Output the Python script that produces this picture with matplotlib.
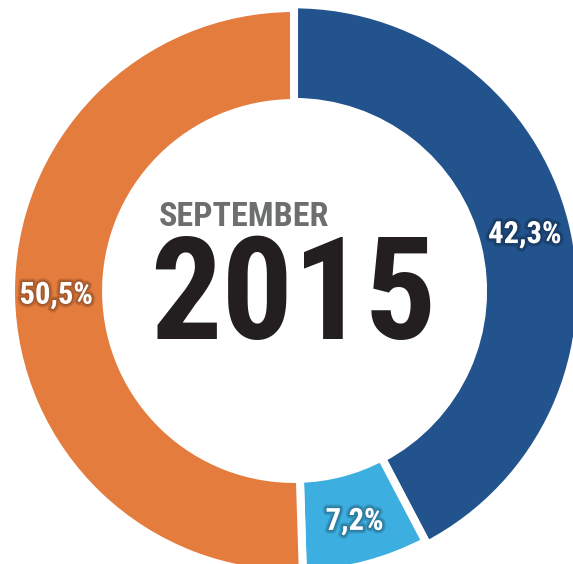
import matplotlib
matplotlib.use('Agg')
from matplotlib import pyplot as plt
from matplotlib import font_manager
from matplotlib import patheffects

# DATA
shares = [42.3, 7.2, 50.5]
colors = ['#22538C', '#3DAEE0', '#E47C3E']
month = 'SEPTEMBER'
year = '2015'

# pick a narrow bold face if one is installed
names = {f.name for f in font_manager.fontManager.ttflist}
FONT = 'DejaVu Sans'
for cand in ['Liberation Sans Narrow', 'Roboto Condensed', 'Arial Narrow']:
    if cand in names:
        FONT = cand
        break

fig = plt.figure(figsize=(5.73, 5.64), dpi=100)
ax = fig.add_axes([0, 0, 1, 1])

wedges, texts, autotexts = ax.pie(
    shares, colors=colors, startangle=90, counterclock=False,
    radius=1.0, pctdistance=0.84,
    autopct=lambda p: '{:.1f}'.format(p).replace('.', ',') + '%',
    wedgeprops=dict(width=0.336, edgecolor='white', linewidth=5.8),
    textprops=dict(color='white', fontsize=22, fontweight='bold', family=FONT))

# the dark blue slice sits a touch further out in the original
wedges[0].set_radius(1.013)
wedges[0].set_width(0.345)

for t in autotexts:
    t.set_path_effects([patheffects.Stroke(linewidth=5, foreground='black', alpha=0.15),
                        patheffects.Stroke(linewidth=2.5, foreground='black', alpha=0.15),
                        patheffects.Normal()])

# centre text
ax.text(-0.477, 0.229, month, ha='left', va='baseline', fontsize=24.5,
        fontweight='bold', color='#6D6E70', family=FONT)
ax.text(-0.002, -0.170, year, ha='center', va='baseline', fontsize=102,
        fontweight='bold', color='#231F20', family=FONT)

# one data unit = 283 px, centre of ring at (294, 291) px from top-left
ax.set_xlim(-294 / 283, 279 / 283)
ax.set_ylim((291 - 564) / 283, 291 / 283)
ax.set_aspect('auto')
ax.axis('off')

plt.savefig('out.png', dpi=100)
